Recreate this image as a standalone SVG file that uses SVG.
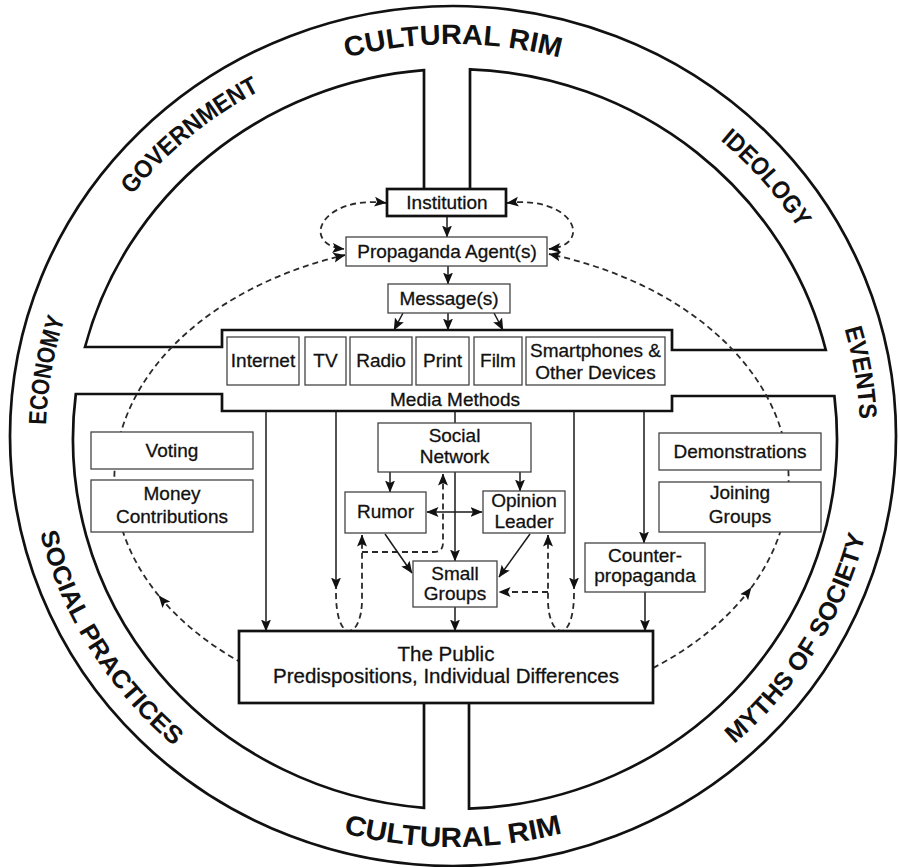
<svg xmlns="http://www.w3.org/2000/svg" width="899" height="867" viewBox="0 0 899 867">
<style>
.frame{fill:none;stroke:#111;stroke-width:2.7;stroke-linejoin:miter}
.box{fill:#fff;stroke:#444;stroke-width:1.3}
.tbox{fill:#fff;stroke:#111;stroke-width:2.7}
.t{font-family:"Liberation Sans",Arial,sans-serif;font-size:19px;fill:#111;stroke:#111;stroke-width:0.3;text-anchor:middle}
.big{font-size:20.5px}
.rim{font-family:"Liberation Sans",Arial,sans-serif;font-weight:bold;font-size:25px;fill:#111;text-anchor:middle}
.ln{fill:none;stroke:#1a1a1a;stroke-width:1.5}
.ds{fill:none;stroke:#2a2a2a;stroke-width:1.8;stroke-dasharray:6 4}
</style>
<defs>
<marker id="ah" markerUnits="userSpaceOnUse" markerWidth="12" markerHeight="11" refX="11.5" refY="5.5" orient="auto-start-reverse" viewBox="0 0 12 11"><path d="M0,0.5 L12,5.5 L0,10.5 L2.5,5.5 z" fill="#111"/></marker>
<path id="cw" d="M453,828 A407,392 0 1 1 453,44 A407,392 0 1 1 453,828"/>
<path id="ccw" d="M453,25 A425,411 0 1 0 453,847 A425,411 0 1 0 453,25"/>
</defs>
<rect width="899" height="867" fill="#fff"/>
<g id="rim">
<ellipse cx="453" cy="436" rx="443" ry="430" class="frame"/>
<path class="frame" d="M424,189 L424,70.2 A382,370 0 0 0 85,347 L222,347 L222,330 L672,330 L672,350 L825.8,350 A382,370 0 0 0 470,69.3 L470,189"/>
<path class="frame" d="M424,703 L424,807.8 A382,370 0 0 1 75.8,394 L222,394 L222,411 L672,411 L672,396 L834.4,396 A382,370 0 0 1 469,808.7 L469,703"/>
<text class="rim"><textPath href="#cw" startOffset="38.7%" textLength="166" lengthAdjust="spacingAndGlyphs">GOVERNMENT</textPath></text>
<text class="rim" style="font-size:28px"><textPath href="#cw" startOffset="50%" textLength="216" lengthAdjust="spacingAndGlyphs">CULTURAL RIM</textPath></text>
<text class="rim"><textPath href="#cw" startOffset="63.9%" textLength="118" lengthAdjust="spacingAndGlyphs">IDEOLOGY</textPath></text>
<text class="rim"><textPath href="#cw" startOffset="72.5%" textLength="92" lengthAdjust="spacingAndGlyphs">EVENTS</textPath></text>
<text class="rim"><textPath href="#cw" startOffset="27.6%" textLength="108" lengthAdjust="spacingAndGlyphs">ECONOMY</textPath></text>
<text class="rim"><textPath href="#ccw" startOffset="33.6%" textLength="256" lengthAdjust="spacingAndGlyphs">SOCIAL PRACTICES</textPath></text>
<text class="rim" style="font-size:28px"><textPath href="#ccw" startOffset="50%" textLength="222" lengthAdjust="spacingAndGlyphs">CULTURAL RIM</textPath></text>
<text class="rim"><textPath href="#ccw" startOffset="66.4%" textLength="250" lengthAdjust="spacingAndGlyphs">MYTHS OF SOCIETY</textPath></text>
</g>
<g id="connectors">
<path class="ds" d="M386,203 C320,195 300,245 344,249" marker-start="url(#ah)" marker-end="url(#ah)"/>
<path class="ds" d="M507,203 C574,195 594,245 549,249" marker-start="url(#ah)" marker-end="url(#ah)"/>
<path class="ds" d="M242,663 A338,236 0 0 1 159,596" marker-end="url(#ah)"/>
<path class="ds" d="M159,596 A338,236 0 0 1 345,255" marker-end="url(#ah)"/>
<path class="ds" d="M653,668 A338,236 0 0 0 751,588" marker-end="url(#ah)"/>
<path class="ds" d="M751,588 A338,236 0 0 0 549,254" marker-end="url(#ah)"/>
<path class="ds" d="M336,593 C336,618 342,631 349,631 C356,631 362,618 362,600 L362,535" marker-end="url(#ah)"/>
<path class="ds" d="M362,552 H434 Q443,552 443,543 V474" marker-end="url(#ah)"/>
<path class="ds" d="M574,593 C574,618 568,631 561,631 C554,631 548,618 548,600 L548,535" marker-end="url(#ah)"/>
<path class="ds" d="M548,592 H499" marker-end="url(#ah)"/>
<path class="ln" d="M447,216 V237" marker-end="url(#ah)"/>
<path class="ln" d="M448,266 V284" marker-end="url(#ah)"/>
<path class="ln" d="M403,313 L394,330" marker-end="url(#ah)"/>
<path class="ln" d="M448,313 V330" marker-end="url(#ah)"/>
<path class="ln" d="M494,313 L503,330" marker-end="url(#ah)"/>
<path class="ln" d="M266,411 V631" marker-end="url(#ah)"/>
<path class="ln" d="M336,411 V589" marker-end="url(#ah)"/>
<path class="ln" d="M455,411 V423"/>
<path class="ln" d="M455,472 V561" marker-end="url(#ah)"/>
<path class="ln" d="M574,411 V589" marker-end="url(#ah)"/>
<path class="ln" d="M644,411 V543" marker-end="url(#ah)"/>
<path class="ln" d="M645,592 V631" marker-end="url(#ah)"/>
<path class="ln" d="M455,607 V631" marker-end="url(#ah)"/>
<path class="ln" d="M390,472 V492" marker-end="url(#ah)"/>
<path class="ln" d="M520,472 V491" marker-end="url(#ah)"/>
<path class="ln" d="M427,512 H482" marker-start="url(#ah)" marker-end="url(#ah)"/>
<path class="ln" d="M385,534 L412,573" marker-end="url(#ah)"/>
<path class="ln" d="M530,534 L499,577" marker-end="url(#ah)"/>
</g>
<g id="institution"><rect class="tbox" x="387" y="189" width="119" height="27"/><text class="t" x="447" y="209">Institution</text></g>
<g id="agent"><rect class="box" x="346" y="237" width="201" height="29"/><text class="t" x="447" y="258">Propaganda Agent(s)</text></g>
<g id="message"><rect class="box" x="388" y="284" width="122" height="29"/><text class="t" x="449" y="305">Message(s)</text></g>
<g id="media-methods">
<rect class="box" x="227" y="337" width="72" height="48"/><text class="t" x="263" y="367">Internet</text>
<rect class="box" x="305" y="337" width="41" height="48"/><text class="t" x="325.5" y="367">TV</text>
<rect class="box" x="350" y="337" width="62" height="48"/><text class="t" x="381" y="367">Radio</text>
<rect class="box" x="416" y="337" width="53" height="48"/><text class="t" x="442.5" y="367">Print</text>
<rect class="box" x="474" y="337" width="48" height="48"/><text class="t" x="498" y="367">Film</text>
<rect class="box" x="526" y="337" width="139" height="48"/><text class="t" x="595.5" y="357">Smartphones &amp;</text><text class="t" x="595.5" y="379">Other Devices</text>
<text class="t" x="455" y="406">Media Methods</text>
</g>
<g id="social-network"><rect class="box" x="378" y="423" width="153" height="49"/><text class="t" x="454.5" y="442">Social</text><text class="t" x="454.5" y="463">Network</text></g>
<g id="rumor"><rect class="box" x="345" y="492" width="81" height="41"/><text class="t" x="385.5" y="518">Rumor</text></g>
<g id="opinion-leader"><rect class="box" x="483" y="491" width="82" height="42"/><text class="t" x="524" y="507">Opinion</text><text class="t" x="524" y="528">Leader</text></g>
<g id="small-groups"><rect class="box" x="413" y="561" width="84" height="46"/><text class="t" x="455" y="580">Small</text><text class="t" x="455" y="600">Groups</text></g>
<g id="voting"><rect class="box" x="91" y="432" width="162" height="37"/><text class="t" x="172" y="457">Voting</text></g>
<g id="money"><rect class="box" x="91" y="480" width="162" height="52"/><text class="t" x="172" y="500">Money</text><text class="t" x="172" y="523">Contributions</text></g>
<g id="demonstrations"><rect class="box" x="659" y="433" width="162" height="37"/><text class="t" x="740" y="458">Demonstrations</text></g>
<g id="joining-groups"><rect class="box" x="659" y="482" width="162" height="50"/><text class="t" x="740" y="499">Joining</text><text class="t" x="740" y="523">Groups</text></g>
<g id="counter-propaganda"><rect class="box" x="585" y="543" width="120" height="49"/><text class="t" x="645" y="562">Counter-</text><text class="t" x="645" y="582">propaganda</text></g>
<g id="public"><rect class="tbox" x="239" y="631" width="414" height="72"/><text class="t big" x="446" y="661">The Public</text><text class="t big" x="446" y="683">Predispositions, Individual Differences</text></g>
</svg>
